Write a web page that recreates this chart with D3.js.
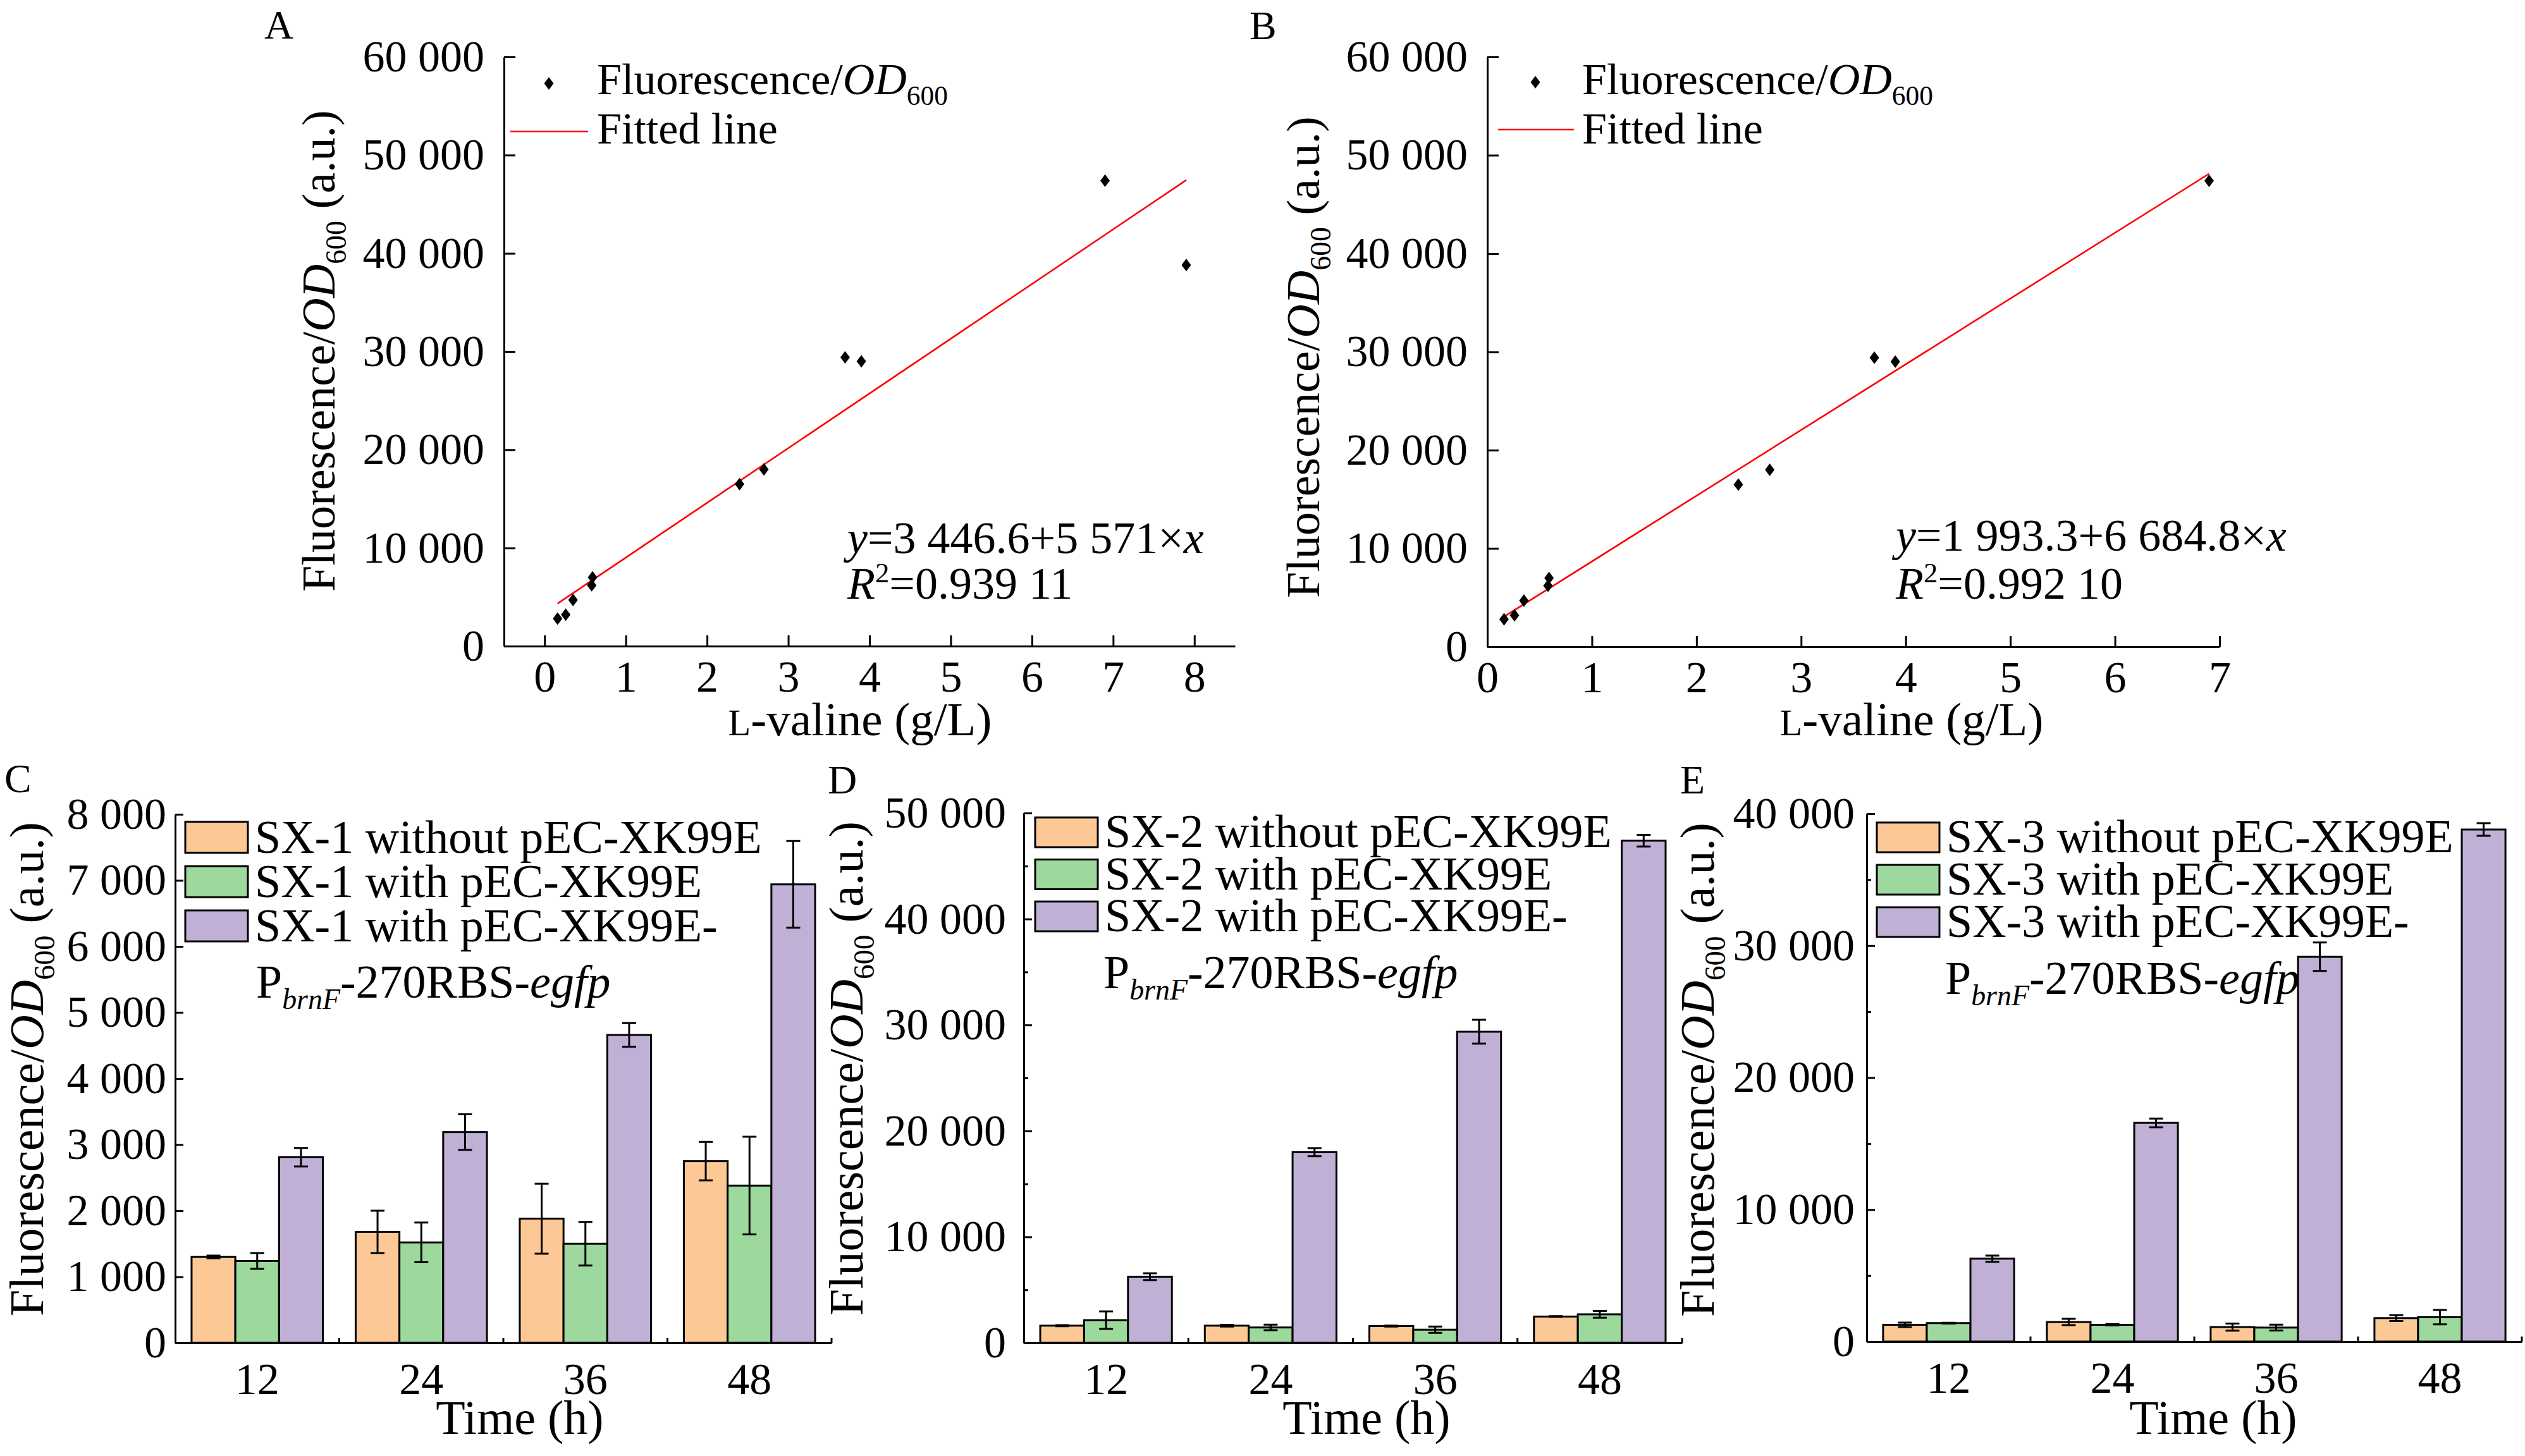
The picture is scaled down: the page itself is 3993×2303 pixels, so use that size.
<!DOCTYPE html>
<html lang="en">
<head>
<meta charset="UTF-8">
<title>L-valine biosensor response</title>
<script src="https://d3js.org/d3.v7.min.js"></script>
<style>
    body { margin: 0; background: #fff; }
    svg { display: block; font-family: "Liberation Serif", "Times New Roman", serif; }
    .axis path, .axis line { stroke: #000; stroke-width: 3px; }
    .axis text { fill: #000; }
</style>
</head>
<body>
<svg width="3993" height="2303"></svg>
<script>
// ---- data: panels A and B (B leaves out the last point)
const valine = [0.16, 0.26, 0.35, 0.58, 0.59, 2.4, 2.7, 3.7, 3.9, 6.9, 7.9];
const fluor = [2800, 3200, 4700, 6200, 7000, 16500, 18000, 29400, 29000, 47400, 38800];
const fitA = [3446.6, 5571];      // intercept, slope
const fitB = [1993.3, 6684.8];

// ---- data: panels C, D, E
const times = ["12", "24", "36", "48"];
const colors = ["#fcc896", "#9dd89d", "#c0b0d6"];

const sx1Without = [1300, 1680, 1880, 2750];
const sx1WithoutErr = [20, 320, 530, 290];
const sx1With = [1240, 1520, 1500, 2380];
const sx1WithErr = [120, 300, 330, 740];
const sx1Egfp = [2810, 3190, 4660, 6940];
const sx1EgfpErr = [140, 270, 180, 655];

const sx2Without = [1620, 1620, 1580, 2480];
const sx2WithoutErr = [50, 80, 40, 40];
const sx2With = [2140, 1450, 1240, 2690];
const sx2WithErr = [830, 260, 300, 320];
const sx2Egfp = [6240, 17990, 29360, 47390];
const sx2EgfpErr = [320, 380, 1130, 550];

const sx3Without = [1270, 1480, 1100, 1780];
const sx3WithoutErr = [170, 240, 270, 220];
const sx3With = [1400, 1270, 1060, 1850];
const sx3WithErr = [30, 50, 220, 550];
const sx3Egfp = [6280, 16570, 29160, 38800];
const sx3EgfpErr = [240, 330, 1080, 480];

const svg = d3.select("svg");
const serif = '"Liberation Serif", "Times New Roman", serif';
const loc = d3.formatLocale({decimal: ".", thousands: " ", grouping: [3], currency: ["", ""]});
const fmt = loc.format(",");

// text made of parts: {t, i: italic, sub, sup, sc: small caps}
function rich(text, parts, fs) {
    let shift = 0;
    parts.forEach(p => {
        let want = p.sub ? fs * 0.24 : (p.sup ? -fs * 0.36 : 0);
        let ts = text.append("tspan").text(p.t).attr("dy", want - shift);
        shift = want;
        if (p.i) ts.attr("font-style", "italic");
        if (p.sub || p.sup) ts.attr("font-size", fs * 0.62);
        if (p.sc) ts.attr("font-size", fs * 0.78);
    });
    return text;
}

function label(x, y, s) {
    svg.append("text").attr("x", x).attr("y", y).attr("font-size", 64).text(s);
}

function yTitle(x, y, fs) {
    let t = svg.append("text")
        .attr("transform", `translate(${x},${y}) rotate(-90)`)
        .attr("text-anchor", "middle")
        .attr("font-size", fs);
    rich(t, [{t: "Fluorescence/"}, {t: "OD", i: true}, {t: "600", sub: true}, {t: " (a.u.)"}], fs);
}

function styleAxis(g, fs) {
    g.attr("font-family", serif).attr("font-size", fs);
}

function scatterPanel(o) {
    let x = d3.scaleLinear().domain(o.xDomain).range(o.xRange);
    let y = d3.scaleLinear().domain([0, 60000]).range(o.yRange);

    svg.append("g").attr("class", "axis")
        .attr("transform", `translate(0,${o.yRange[0]})`)
        .call(d3.axisBottom(x).tickValues(d3.range(0, o.xMax + 1)).tickFormat(d3.format("d"))
            .tickSize(-17).tickSizeOuter(0).tickPadding(22))
        .call(g => styleAxis(g, 70));

    svg.append("g").attr("class", "axis")
        .attr("transform", `translate(${o.xRange[0]},0)`)
        .call(d3.axisLeft(y).tickValues(d3.range(0, 60001, 10000)).tickFormat(fmt)
            .tickSize(-18).tickSizeOuter(0).tickPadding(31))
        .call(g => styleAxis(g, 70));

    let xs = valine.slice(0, o.n), ys = fluor.slice(0, o.n);
    let x0 = d3.min(xs), x1 = d3.max(xs);
    svg.append("line")
        .attr("x1", x(x0)).attr("y1", y(o.fit[0] + o.fit[1] * x0))
        .attr("x2", x(x1)).attr("y2", y(o.fit[0] + o.fit[1] * x1))
        .attr("stroke", "#f00").attr("stroke-width", 2.6);

    const diamond = "M0,-10L7.5,0L0,10L-7.5,0Z";
    svg.append("g").selectAll("path")
        .data(xs)
        .join("path")
        .attr("d", diamond)
        .attr("transform", (d, i) => `translate(${x(d)},${y(ys[i])})`)
        .attr("fill", "#000");

    // legend
    svg.append("path").attr("d", diamond).attr("fill", "#000")
        .attr("transform", `translate(${o.leg[0]},${o.leg[1]})`);
    rich(svg.append("text").attr("x", o.legText).attr("y", 149).attr("font-size", 70),
        [{t: "Fluorescence/"}, {t: "OD", i: true}, {t: "600", sub: true}], 70);
    svg.append("line").attr("x1", o.legLine[0]).attr("x2", o.legLine[1])
        .attr("y1", o.legLine[2]).attr("y2", o.legLine[2])
        .attr("stroke", "#f00").attr("stroke-width", 2.6);
    svg.append("text").attr("x", o.legText).attr("y", 227).attr("font-size", 70).text("Fitted line");

    // equation
    rich(svg.append("text").attr("x", o.eq[0]).attr("y", o.eq[1]).attr("font-size", 72),
        [{t: "y", i: true}, {t: "=" + o.eqText + "×"}, {t: "x", i: true}], 72);
    rich(svg.append("text").attr("x", o.eq[0]).attr("y", o.eq[2]).attr("font-size", 72),
        [{t: "R", i: true}, {t: "2", sup: true}, {t: "=" + o.r2}], 72);

    rich(svg.append("text").attr("x", o.title[0]).attr("y", 1163)
        .attr("text-anchor", "middle").attr("font-size", 75),
        [{t: "L", sc: true}, {t: "-valine (g/L)"}], 75);
    yTitle(o.yt[0], o.yt[1], 74);
    label(o.lab[0], o.lab[1], o.lab[2]);
}

function barPanel(o) {
    let x0 = d3.scaleBand().domain(times).range(o.xRange);
    let bw = x0.bandwidth();
    let x1 = d3.scaleBand().domain([0, 1, 2]).range([bw * 0.1, bw * 0.9]);
    let y = d3.scaleLinear().domain([0, o.yMax]).range(o.yRange);

    // x axis: labels under groups, small ticks at group boundaries
    let gx = svg.append("g").attr("class", "axis")
        .attr("transform", `translate(0,${o.yRange[0]})`)
        .call(d3.axisBottom(x0).tickSize(0).tickPadding(31))
        .call(g => styleAxis(g, 70));
    gx.selectAll(".bound")
        .data(times.slice(1).concat(["end"]))
        .join("line")
        .attr("stroke", "#000").attr("stroke-width", 3)
        .attr("x1", d => d === "end" ? o.xRange[1] : x0(d))
        .attr("x2", d => d === "end" ? o.xRange[1] : x0(d))
        .attr("y1", 0).attr("y2", -8);

    if (o.minor) {
        svg.append("g").attr("class", "axis")
            .attr("transform", `translate(${o.xRange[0]},0)`)
            .call(d3.axisLeft(y).tickValues(d3.range(o.minor, o.yMax, o.step)).tickFormat("")
                .tickSize(-7).tickSizeOuter(0));
    }
    svg.append("g").attr("class", "axis")
        .attr("transform", `translate(${o.xRange[0]},0)`)
        .call(d3.axisLeft(y).tickValues(d3.range(0, o.yMax + 1, o.step)).tickFormat(fmt)
            .tickSize(-13).tickSizeOuter(0).tickPadding(o.pad))
        .call(g => styleAxis(g, 70));

    o.means.forEach((m, s) => {
        let g = svg.append("g");
        g.selectAll("rect")
            .data(m)
            .join("rect")
            .attr("x", (d, i) => x0(times[i]) + x1(s))
            .attr("width", x1.bandwidth())
            .attr("y", d => y(d))
            .attr("height", d => y(0) - y(d))
            .attr("fill", colors[s])
            .attr("stroke", "#000").attr("stroke-width", 3);
        let cx = i => x0(times[i]) + x1(s) + x1.bandwidth() / 2;
        let e = o.errs[s];
        g.selectAll(".eb")
            .data(m)
            .join("path")
            .attr("d", (d, i) => {
                let lo = y(d - e[i]), hi = y(d + e[i]), c = cx(i);
                return `M${c},${lo}V${hi}M${c - 11},${hi}H${c + 11}M${c - 11},${lo}H${c + 11}`;
            })
            .attr("fill", "none").attr("stroke", "#000").attr("stroke-width", 3);
    });

    // legend
    let names = [o.strain + " without pEC-XK99E", o.strain + " with pEC-XK99E", o.strain + " with pEC-XK99E-"];
    names.forEach((n, s) => {
        let top = o.leg[1] + s * o.leg[2];
        svg.append("rect").attr("x", o.leg[0]).attr("y", top)
            .attr("width", 99).attr("height", o.leg[3])
            .attr("fill", colors[s]).attr("stroke", "#000").attr("stroke-width", 3);
        svg.append("text").attr("x", o.leg[0] + 110).attr("y", top + o.leg[3])
            .attr("font-size", 74).text(n);
    });
    rich(svg.append("text").attr("x", o.p[0]).attr("y", o.p[1]).attr("font-size", 74),
        [{t: "P"}, {t: "brnF", i: true, sub: true}, {t: "-270RBS-"}, {t: "egfp", i: true}], 74);

    svg.append("text").attr("x", o.title).attr("y", 2268)
        .attr("text-anchor", "middle").attr("font-size", 76).text("Time (h)");
    yTitle(o.yt[0], o.yt[1], 76);
    label(o.lab[0], o.lab[1], o.lab[2]);
}

scatterPanel({
    n: 11, fit: fitA, xDomain: [-0.5, 8.5], xMax: 8, xRange: [797, 1953], yRange: [1022, 90],
    leg: [868, 132], legText: 944, legLine: [807, 930, 208],
    eq: [1340, 875, 947], eqText: "3 446.6+5 571", r2: "0.939 11",
    title: [1360], yt: [529, 555], lab: [418, 61, "A"]
});
scatterPanel({
    n: 10, fit: fitB, xDomain: [0, 7], xMax: 7, xRange: [2352, 3510], yRange: [1023, 90],
    leg: [2428, 130], legText: 2502, legLine: [2369, 2489, 205],
    eq: [2998, 871, 947], eqText: "1 993.3+6 684.8", r2: "0.992 10",
    title: [3023], yt: [2086, 565], lab: [1976, 62, "B"]
});

barPanel({
    strain: "SX-1", xRange: [277, 1315], yRange: [2124, 1288], yMax: 8000, step: 1000, pad: 14,
    means: [sx1Without, sx1With, sx1Egfp], errs: [sx1WithoutErr, sx1WithErr, sx1EgfpErr],
    leg: [293, 1300, 70, 49], p: [405, 1578], title: 822, yt: [68, 1691], lab: [7, 1253, "C"]
});
barPanel({
    strain: "SX-2", xRange: [1619, 2660], yRange: [2124, 1286], yMax: 50000, step: 10000, minor: 5000, pad: 28,
    means: [sx2Without, sx2With, sx2Egfp], errs: [sx2WithoutErr, sx2WithErr, sx2EgfpErr],
    leg: [1637, 1293, 66.5, 47], p: [1745, 1563], title: 2161, yt: [1364, 1690], lab: [1309, 1255, "D"]
});
barPanel({
    strain: "SX-3", xRange: [2952, 3988], yRange: [2122, 1287], yMax: 40000, step: 10000, minor: 5000, pad: 19,
    means: [sx3Without, sx3With, sx3Egfp], errs: [sx3WithoutErr, sx3WithErr, sx3EgfpErr],
    leg: [2968, 1301, 67, 47], p: [3076, 1572], title: 3500, yt: [2710, 1692], lab: [2657, 1255, "E"]
});
</script>
</body>
</html>
